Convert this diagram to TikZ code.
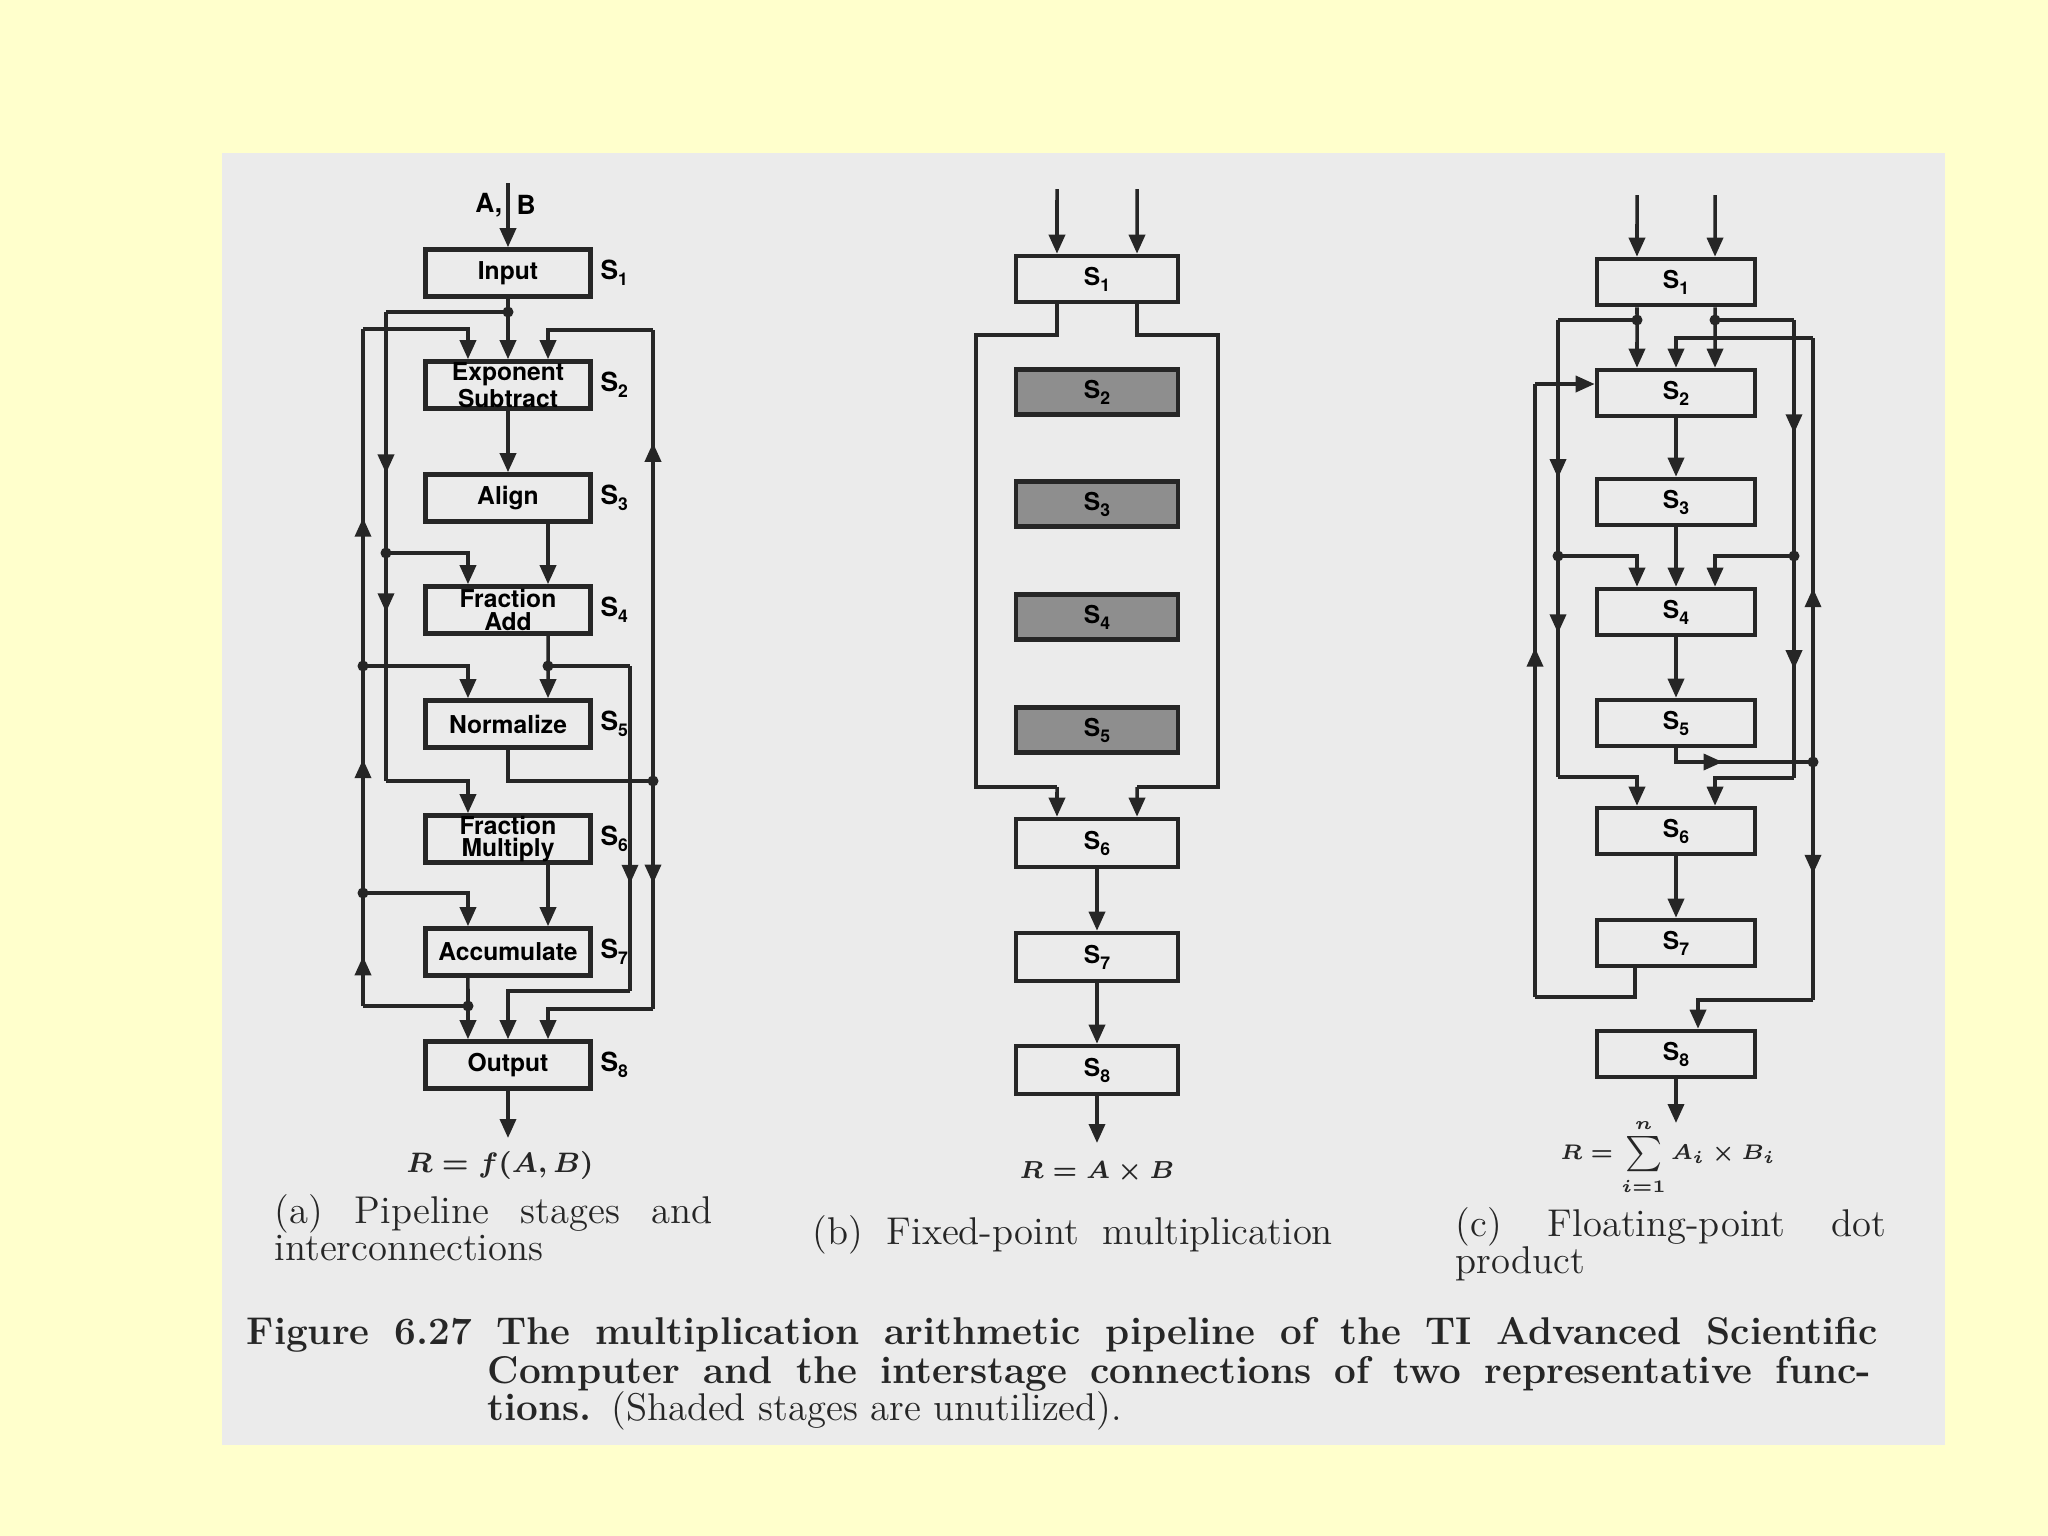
\documentclass[tikz,border=0pt]{standalone}
\usepackage{fontspec}
\newfontfamily\heros{TeX Gyre Heros}
\usepackage{tikz}
\usetikzlibrary{arrows.meta,positioning,decorations.markings}

\definecolor{slide}{HTML}{FFFFCC}
\definecolor{paper}{HTML}{EBEBEB}
\definecolor{ink}{HTML}{262626}
\definecolor{unused}{HTML}{8E8E8E}

\newcommand{\stg}[1]{S\raisebox{-0.45ex}{\fontsize{5}{5}\selectfont #1}}

\begin{document}
\begin{tikzpicture}[
    x=0.01cm, y=-0.01cm,
    stage/.style={rectangle, draw=ink, line width=1.3pt, minimum width=1.65cm, minimum height=0.47cm, inner sep=0pt, align=center, font=\heros\bfseries\fontsize{7}{6.3}\selectfont},
    unusedstage/.style={stage, fill=unused},
    tag/.style={inner sep=0pt, font=\heros\bfseries\fontsize{7.5}{8}\selectfont},
    link/.style={draw=ink, line width=1pt},
    arrow/.style={link, -{Triangle[length=1.9mm, width=1.6mm]}},
    midtip/.style={postaction={decorate}, decoration={markings, mark=at position #1 with {\arrow{Triangle[length=1.9mm, width=1.6mm]}}}},
    result/.style={inner sep=0pt, text=ink},
    caption/.style={inner sep=0pt, anchor=base west, text=ink, font=\fontsize{11}{13}\selectfont},
    figcap/.style={inner sep=0pt, anchor=base west, text=ink, font=\bfseries\fontsize{11}{13}\selectfont}
]

\useasboundingbox (0,0) rectangle (2048,1536);
\fill[slide] (0,0) rectangle (2048,1536);
\fill[paper] (222,153) rectangle (1945,1445);

% (a) Pipeline stages
\node[stage] (inp) at (508,273) {Input};
\node[stage] (exs) at (508,385) {Exponent\\Subtract};
\node[stage] (aln) at (508,498) {Align};
\node[stage] (fad) at (508,610) {Fraction\\Add};
\node[stage] (nrm) at (508,724) {Normalize};
\node[stage] (fml) at (508,839) {Fraction\\Multiply};
\node[stage] (acc) at (508,952) {Accumulate};
\node[stage] (out) at (508,1065) {Output};

\node[tag, right=2pt of inp] (ta1) {\stg{1}};
\node[tag, right=2pt of exs] (ta2) {\stg{2}};
\node[tag, right=2pt of aln] (ta3) {\stg{3}};
\node[tag, right=2pt of fad] (ta4) {\stg{4}};
\node[tag, right=2pt of nrm] (ta5) {\stg{5}};
\node[tag, right=2pt of fml] (ta6) {\stg{6}};
\node[tag, right=2pt of acc] (ta7) {\stg{7}};
\node[tag, right=2pt of out] (ta8) {\stg{8}};

\coordinate (ain) at (508,183);
\node[tag, anchor=east] (la) at (503,205) {A,};
\node[tag, anchor=west] (lb) at (516,205) {B};

\coordinate (j1) at (508,312);
\coordinate (il1) at (386,312);
\coordinate (il2) at (386,553);
\coordinate (il3) at (386,781);
\coordinate (ol0) at (363,1006);
\coordinate (ol1) at (363,893);
\coordinate (ol2) at (363,666);
\coordinate (ol3) at (363,329);
\coordinate (j3) at (468,1006);
\coordinate (j6) at (548,666);
\coordinate (ir1) at (630,666);
\coordinate (ir2) at (630,991);
\coordinate (nb) at (508,781);
\coordinate (j7) at (653,781);
\coordinate (or1) at (653,330);
\coordinate (or2) at (653,1009);
\coordinate (ares) at (508,1138);

% main flow
\draw[arrow] (ain) -- (inp);
\draw[link] (inp) -- (j1);
\draw[arrow] (j1) -- (exs);
\draw[arrow] (exs) -- (aln);
\draw[arrow] ([xshift=0.4cm]aln.south) -- ([xshift=0.4cm]fad.north);
\draw[link] ([xshift=0.4cm]fad.south) -- (j6);
\draw[arrow] (j6) -- ([xshift=0.4cm]nrm.north);
\draw[arrow] ([xshift=0.4cm]fml.south) -- ([xshift=0.4cm]acc.north);
\draw[link] ([xshift=-0.4cm]acc.south) -- (j3);
\draw[arrow] (j3) -- ([xshift=-0.4cm]out.north);
\draw[arrow] (out) -- (ares);

% inner left bypass
\draw[link] (j1) -- (il1);
\draw[link, midtip=0.67] (il1) -- (il2);
\draw[link, midtip=0.26] (il2) -- (il3);
\draw[arrow] (il2) -| ([xshift=-0.4cm]fad.north);
\draw[arrow] (il3) -| ([xshift=-0.4cm]fml.north);

% outer left feedback
\draw[link] (j3) -- (ol0);
\draw[link, midtip=0.44] (ol0) -- (ol1);
\draw[link, midtip=0.59] (ol1) -- (ol2);
\draw[link, midtip=0.44] (ol2) -- (ol3);
\draw[arrow] (ol3) -| ([xshift=-0.4cm]exs.north);
\draw[arrow] (ol2) -| ([xshift=-0.4cm]nrm.north);
\draw[arrow] (ol1) -| ([xshift=-0.4cm]acc.north);

% inner right bypass
\draw[link] (j6) -- (ir1);
\draw[link, midtip=0.67] (ir1) -- (ir2);
\draw[arrow] (ir2) -| (out.north);

% outer right
\draw[link] (nrm) -- (nb) -- (j7);
\draw[link, midtip=0.75] (j7) -- (or1);
\draw[arrow] (or1) -| ([xshift=0.4cm]exs.north);
\draw[link, midtip=0.45] (j7) -- (or2);
\draw[arrow] (or2) -| ([xshift=0.4cm]out.north);

\foreach \j in {j1,il2,ol1,ol2,j3,j6,j7}
    \fill[ink] (\j) circle (0.55mm);

\node[result] (ra) at (500,1165) {{\boldmath\fontsize{8}{9}\selectfont$R = f(A, B)$}};

% (b) Fixed-point multiplication
\node[stage, minimum width=1.62cm, minimum height=0.46cm] (b1) at (1097,279) {\stg{1}};
\node[unusedstage, minimum width=1.62cm, minimum height=0.45cm] (b2) at (1097,392) {\stg{2}};
\node[unusedstage, minimum width=1.62cm, minimum height=0.45cm] (b3) at (1097,504) {\stg{3}};
\node[unusedstage, minimum width=1.62cm, minimum height=0.45cm] (b4) at (1097,617) {\stg{4}};
\node[unusedstage, minimum width=1.62cm, minimum height=0.45cm] (b5) at (1097,730) {\stg{5}};
\node[stage, minimum width=1.62cm, minimum height=0.48cm] (b6) at (1097,843) {\stg{6}};
\node[stage, minimum width=1.62cm, minimum height=0.48cm] (b7) at (1097,957) {\stg{7}};
\node[stage, minimum width=1.62cm, minimum height=0.48cm] (b8) at (1097,1070) {\stg{8}};

\coordinate (bi1) at (1057,189);
\coordinate (bi2) at (1137,189);
\coordinate (bl2) at (976,335);
\coordinate (bl4) at (1057,787);
\coordinate (br2) at (1218,335);
\coordinate (br4) at (1137,787);
\coordinate (bres) at (1097,1143);

\draw[arrow] (bi1) -- ([xshift=-0.4cm]b1.north);
\draw[arrow] (bi2) -- ([xshift=0.4cm]b1.north);
\draw[link] ([xshift=-0.4cm]b1.south) |- (bl2) |- (bl4);
\draw[arrow] (bl4) -- ([xshift=-0.4cm]b6.north);
\draw[link] ([xshift=0.4cm]b1.south) |- (br2) |- (br4);
\draw[arrow] (br4) -- ([xshift=0.4cm]b6.north);
\draw[arrow] (b6) -- (b7);
\draw[arrow] (b7) -- (b8);
\draw[arrow] (b8) -- (bres);

\node[result] (rb) at (1097,1172) {{\boldmath\fontsize{7}{8}\selectfont$R = A \times B$}};

% (c) Floating-point dot product
\node[stage, minimum width=1.58cm, minimum height=0.46cm] (c1) at (1676,282) {\stg{1}};
\node[stage, minimum width=1.58cm, minimum height=0.46cm] (c2) at (1676,393) {\stg{2}};
\node[stage, minimum width=1.58cm, minimum height=0.46cm] (c3) at (1676,502) {\stg{3}};
\node[stage, minimum width=1.58cm, minimum height=0.46cm] (c4) at (1676,612) {\stg{4}};
\node[stage, minimum width=1.58cm, minimum height=0.46cm] (c5) at (1676,723) {\stg{5}};
\node[stage, minimum width=1.58cm, minimum height=0.46cm] (c6) at (1676,831) {\stg{6}};
\node[stage, minimum width=1.58cm, minimum height=0.46cm] (c7) at (1676,943) {\stg{7}};
\node[stage, minimum width=1.58cm, minimum height=0.46cm] (c8) at (1676,1054) {\stg{8}};

\coordinate (ci1) at (1637,195);
\coordinate (ci2) at (1715,195);
\coordinate (cj1) at (1637,320);
\coordinate (cj2) at (1715,320);
\coordinate (cl1) at (1558,320);
\coordinate (cl2) at (1558,556);
\coordinate (cl3) at (1558,777);
\coordinate (cr1) at (1794,320);
\coordinate (cr2) at (1794,556);
\coordinate (cr3) at (1794,778);
\coordinate (cj3) at (1813,762);
\coordinate (co1) at (1813,338);
\coordinate (co2) at (1813,1000);
\coordinate (co3) at (1535,997);
\coordinate (co4) at (1535,384);
\coordinate (cres) at (1676,1123);

% main flow
\draw[arrow] (ci1) -- ([xshift=-0.39cm]c1.north);
\draw[arrow] (ci2) -- ([xshift=0.39cm]c1.north);
\draw[link] ([xshift=-0.39cm]c1.south) -- (cj1);
\draw[link] ([xshift=0.39cm]c1.south) -- (cj2);
\draw[arrow] (cj1) -- ([xshift=-0.39cm]c2.north);
\draw[arrow] (cj2) -- ([xshift=0.39cm]c2.north);
\draw[arrow] (c2) -- (c3);
\draw[arrow] (c3) -- (c4);
\draw[arrow] (c4) -- (c5);
\draw[arrow] (c6) -- (c7);
\draw[arrow] (c8) -- (cres);

% bypass lines
\draw[link] (cj1) -- (cl1);
\draw[link, midtip=0.67] (cl1) -- (cl2);
\draw[link, midtip=0.35] (cl2) -- (cl3);
\draw[arrow] (cl2) -| ([xshift=-0.39cm]c4.north);
\draw[arrow] (cl3) -| ([xshift=-0.39cm]c6.north);
\draw[link] (cj2) -- (cr1);
\draw[link, midtip=0.48] (cr1) -- (cr2);
\draw[link, midtip=0.51] (cr2) -- (cr3);
\draw[arrow] (cr2) -| ([xshift=0.39cm]c4.north);
\draw[arrow] (cr3) -| ([xshift=0.39cm]c6.north);

% accumulation loops
\draw[link, midtip=0.4] (c5) |- (cj3);
\draw[link, midtip=0.41] (cj3) -- (co1);
\draw[arrow] (co1) -| (c2.north);
\draw[link, midtip=0.47] (cj3) -- (co2);
\draw[arrow] (co2) -| ([xshift=0.22cm]c8.north);
\draw[link] ([xshift=-0.41cm]c7.south) |- (co3);
\draw[link, midtip=0.57] (co3) -- (co4);
\draw[arrow] (co4) -- (co4 -| c2.west);

\foreach \j in {cj1,cj2,cl2,cr2,cj3}
    \fill[ink] (\j) circle (0.55mm);

\node[result] (rc) at (1668,1157) {{\boldmath\fontsize{6}{7}\selectfont$R = \sum\limits_{i=1}^{n} A_i \times B_i$}};

% captions
\node[caption] (capa1) at (274,1223) {\makebox[4.38cm][s]{(a) Pipeline stages and}};
\node[caption] (capa2) at (274,1260) {interconnections};
\node[caption] (capb) at (812,1244) {\makebox[5.2cm][s]{(b) Fixed-point multiplication}};
\node[caption] (capc1) at (1455,1236) {\makebox[4.3cm][s]{(c) Floating-point dot}};
\node[caption] (capc2) at (1455,1273) {product};

\node[figcap] (fig1) at (246,1344) {\makebox[16.3cm][s]{Figure 6.27 The multiplication arithmetic pipeline of the TI Advanced Scientific}};
\node[figcap] (fig2) at (487,1383) {\makebox[13.83cm][s]{Computer and the interstage connections of two representative func-}};
\node[figcap] (fig3) at (487,1420) {tions. \mdseries (Shaded stages are unutilized).};

\end{tikzpicture}
\end{document}
